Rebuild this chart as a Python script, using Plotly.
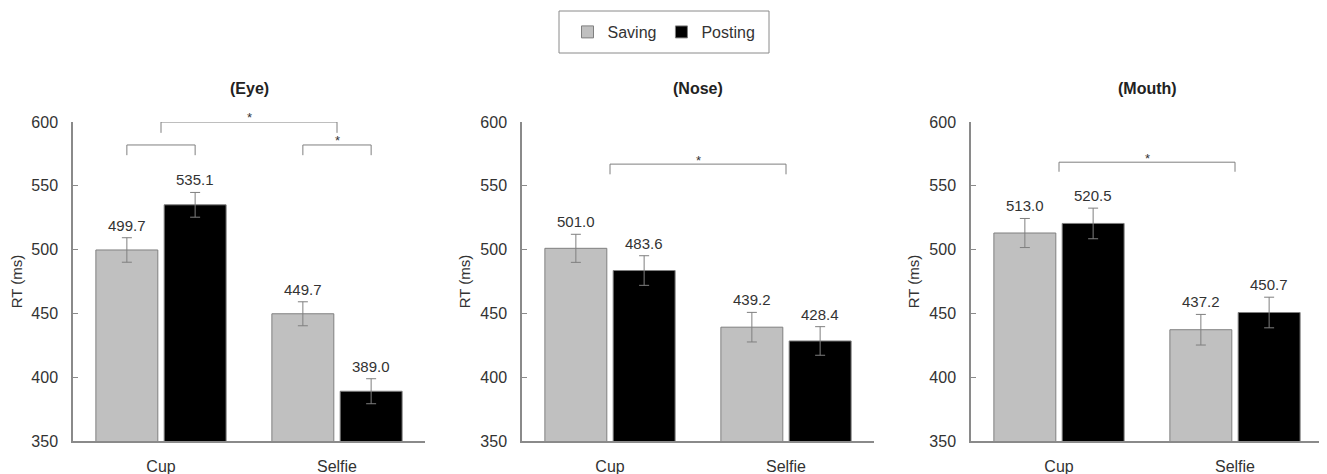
import plotly.graph_objects as go

# ---------------- data ----------------
categories = ["Cup", "Selfie"]
series_names = ["Saving", "Posting"]
panel_titles = ["(Eye)", "(Nose)", "(Mouth)"]

eye_saving = [499.7, 449.7]
eye_posting = [535.1, 389.0]
eye_saving_err = [9.6, 9.4]
eye_posting_err = [9.7, 9.8]

nose_saving = [501.0, 439.2]
nose_posting = [483.6, 428.4]
nose_saving_err = [11.0, 11.6]
nose_posting_err = [11.6, 11.2]

mouth_saving = [513.0, 437.2]
mouth_posting = [520.5, 450.7]
mouth_saving_err = [11.4, 12.0]
mouth_posting_err = [12.0, 12.0]

y_ticks = [350, 400, 450, 500, 550, 600]
Y_MIN, Y_MAX = 350, 600

# significance brackets: (from (category, series), to (category, series), bar level, leg level, star level, show star)
# series None means the category centre
eye_brackets = [
    (("Cup", None), ("Selfie", None), 600.0, 591.5, 605.5, True),
    (("Cup", "Saving"), ("Cup", "Posting"), 582.0, 574.0, 587.5, False),
    (("Selfie", "Saving"), ("Selfie", "Posting"), 582.0, 574.0, 587.5, True),
]
nose_brackets = [
    (("Cup", None), ("Selfie", None), 567.0, 559.0, 572.5, True),
]
mouth_brackets = [
    (("Cup", None), ("Selfie", None), 568.5, 561.0, 574.0, True),
]

panels = [
    (eye_saving, eye_posting, eye_saving_err, eye_posting_err, eye_brackets),
    (nose_saving, nose_posting, nose_saving_err, nose_posting_err, nose_brackets),
    (mouth_saving, mouth_posting, mouth_saving_err, mouth_posting_err, mouth_brackets),
]

# ---------------- style ----------------
OFF = 8                      # default page body margin
W, H = 1327 - OFF, 474 - OFF  # figure fits the window exactly
FONT = "Liberation Sans, Arial, Helvetica, sans-serif"
SAVE_COLOR = "#c0c0c0"
POST_COLOR = "#000000"
EDGE = "#7f7f7f"
AXIS = "#8a8a8a"
TEXT = "#333333"
BARGAP = 0.224
BARGROUPGAP = 0.093
SLOT = (1 - BARGAP) / 2
PX_PER_UNIT = (441 - 122) / (Y_MAX - Y_MIN)


def px_x(x):
    return (x - OFF) / W


def px_y(y):
    return 1 - (y - OFF) / H


x_domains = [(px_x(73), px_x(425)), (px_x(522), px_x(874)), (px_x(971), px_x(1323))]
y_domain = (px_y(441), px_y(122))

fig = go.Figure()
annotations = []


def xpos(cat, ser):
    i = categories.index(cat)
    if ser is None:
        return i
    return i - SLOT / 2 if ser == "Saving" else i + SLOT / 2


for p, (sav, post, sav_err, post_err, brackets) in enumerate(panels):
    ax = "" if p == 0 else str(p + 1)
    xref, yref = "x" + ax, "y" + ax
    xs = list(range(len(categories)))
    for name, vals, errs, color in [
        ("Saving", sav, sav_err, SAVE_COLOR),
        ("Posting", post, post_err, POST_COLOR),
    ]:
        fig.add_trace(go.Bar(
            x=xs, y=vals, name=name, xaxis=xref, yaxis=yref,
            marker=dict(color=color, line=dict(color=EDGE, width=1)),
            error_y=dict(type="data", array=errs, color=EDGE, thickness=1, width=5),
            showlegend=(p == 0), legendgroup=name, hoverinfo="skip",
        ))
        for i, (v, e) in enumerate(zip(vals, errs)):
            annotations.append(dict(
                x=xpos(categories[i], name), y=v + e, xref=xref, yref=yref,
                text=f"{v:.1f}", showarrow=False, yanchor="bottom", yshift=2,
                font=dict(family=FONT, size=15, color=TEXT),
            ))
    for (c0, s0), (c1, s1), ybar, yleg, ystar, star in brackets:
        x0, x1 = xpos(c0, s0), xpos(c1, s1)
        fig.add_trace(go.Scatter(
            x=[x0, x0, x1, x1], y=[yleg, ybar, ybar, yleg], mode="lines",
            line=dict(color=EDGE, width=1), xaxis=xref, yaxis=yref,
            showlegend=False, hoverinfo="skip", cliponaxis=False,
        ))
        if star:
            # anchor inside the axis range (annotations outside are hidden), shift up in pixels
            y_anchor = min(ystar, Y_MAX)
            extra = (ystar - y_anchor) * PX_PER_UNIT
            annotations.append(dict(
                x=(x0 + x1) / 2, y=y_anchor, xref=xref, yref=yref, text="*",
                showarrow=False, yanchor="middle", yshift=-3 + extra,
                font=dict(family=FONT, size=13, color=TEXT),
            ))
    annotations.append(dict(
        x=0.5, xref=xref + " domain", y=px_y(88), yref="paper",
        text=f"<b>{panel_titles[p]}</b>", showarrow=False, yanchor="middle",
        font=dict(family=FONT, size=16, color="#222222"),
    ))
    fig.update_layout(**{
        "xaxis" + ax: dict(
            domain=list(x_domains[p]), range=[-0.5, 1.5], tickvals=xs, ticktext=categories,
            showline=True, linecolor=AXIS, linewidth=1.5, ticks="", showgrid=False,
            zeroline=False, ticklabelstandoff=10, anchor=yref, automargin=False,
            tickfont=dict(family=FONT, size=16, color=TEXT),
        ),
        "yaxis" + ax: dict(
            domain=list(y_domain), range=[Y_MIN, Y_MAX], tickvals=y_ticks,
            showline=True, linecolor=AXIS, linewidth=1.5, ticks="inside", ticklen=5,
            tickcolor=AXIS, showgrid=False, zeroline=False, anchor=xref,
            ticklabelstandoff=10, automargin=False,
            tickfont=dict(family=FONT, size=16, color=TEXT),
            title=dict(text="RT (ms)", standoff=6, font=dict(family=FONT, size=15, color=TEXT)),
        ),
    })

# legend frame (the legend itself is drawn without border, centred in this frame)
legend_box = dict(type="rect", xref="paper", yref="paper",
                  x0=px_x(559), x1=px_x(769), y0=px_y(53), y1=px_y(11),
                  line=dict(color="#8a8a8a", width=1), fillcolor="rgba(0,0,0,0)")

fig.update_layout(
    width=W, height=H, barmode="group", bargap=BARGAP, bargroupgap=BARGROUPGAP,
    margin=dict(l=0, r=0, t=0, b=0, autoexpand=False), paper_bgcolor="white", plot_bgcolor="white",
    annotations=annotations, shapes=[legend_box],
    legend=dict(
        orientation="h", x=px_x(664), xanchor="center", y=px_y(32), yanchor="middle",
        borderwidth=0, bgcolor="rgba(0,0,0,0)", font=dict(family=FONT, size=16, color=TEXT),
        itemwidth=30,
    ),
    font=dict(family=FONT, color=TEXT),
)

fig.write_html("out.html")
